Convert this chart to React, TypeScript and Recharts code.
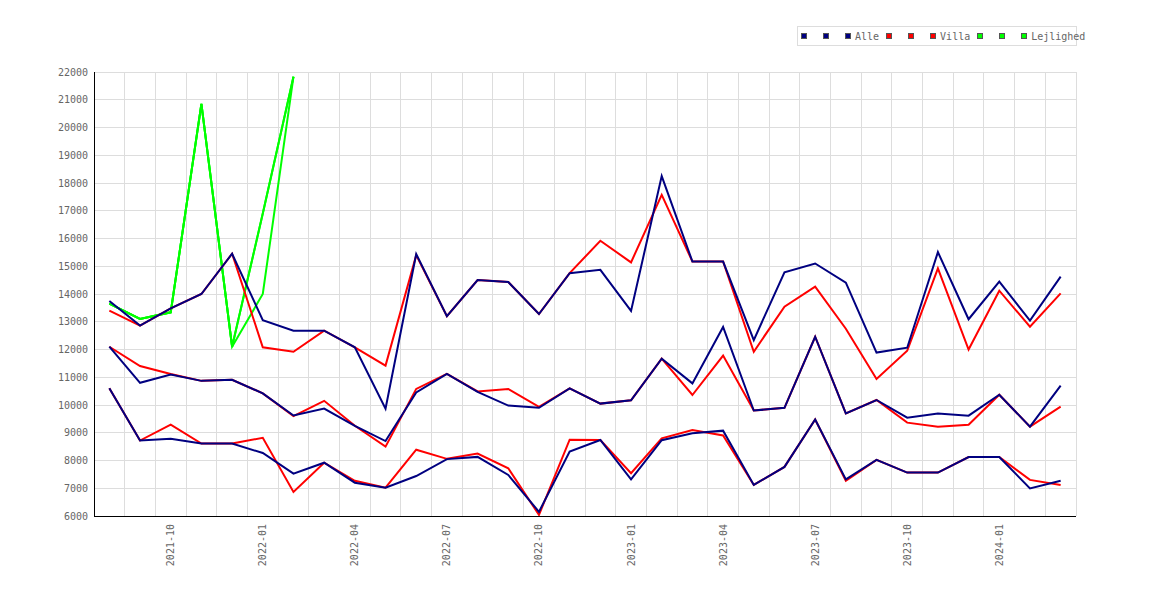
import React from "react";
import { LineChart, Line, XAxis, YAxis, CartesianGrid, Legend } from "recharts";

const months = [
  "2021-08", "2021-09", "2021-10", "2021-11", "2021-12", "2022-01", "2022-02", "2022-03",
  "2022-04", "2022-05", "2022-06", "2022-07", "2022-08", "2022-09", "2022-10", "2022-11",
  "2022-12", "2023-01", "2023-02", "2023-03", "2023-04", "2023-05", "2023-06", "2023-07",
  "2023-08", "2023-09", "2023-10", "2023-11", "2023-12", "2024-01", "2024-02", "2024-03",
];

const tickMonths = ["2021-10", "2022-01", "2022-04", "2022-07", "2022-10", "2023-01", "2023-04", "2023-07", "2023-10", "2024-01"];

const yTicks = [6000, 7000, 8000, 9000, 10000, 11000, 12000, 13000, 14000, 15000, 16000, 17000, 18000, 19000, 20000, 21000, 22000];

const alleUpper = [13750, 12860, 13480, 14000, 15450, 13060, 12680, 12680, 12080, 9870, 15440, 13200, 14500, 14430, 13280, 14750, 14870, 13390, 18250, 15170, 15170, 12340, 14780, 15100, 14410, 11890, 12065, 15510, 13090, 14445, 13040, 14625];
const alleMid = [12100, 10800, 11100, 10870, 10910, 10420, 9620, 9870, 9250, 8700, 10450, 11120, 10470, 9980, 9900, 10600, 10050, 10170, 11670, 10780, 12810, 9800, 9900, 12460, 9700, 10180, 9545, 9690, 9615, 10370, 9220, 10700];
const alleLower = [10600, 8720, 8780, 8610, 8610, 8270, 7525, 7920, 7200, 7020, 7440, 8050, 8130, 7480, 6150, 8320, 8740, 7320, 8730, 8980, 9075, 7120, 7770, 9480, 7320, 8020, 7565, 7565, 8125, 8125, 6995, 7270];

const villaUpper = [13400, 12860, 13480, 14000, 15450, 12080, 11920, 12680, 12080, 11420, 15400, 13200, 14500, 14430, 13280, 14750, 15920, 15140, 17570, 15170, 15170, 11920, 13545, 14265, 12750, 10940, 11955, 14925, 12000, 14120, 12820, 14025];
const villaMid = [12100, 11405, 11120, 10870, 10910, 10420, 9600, 10150, 9250, 8500, 10580, 11120, 10490, 10580, 9930, 10600, 10050, 10170, 11670, 10360, 11780, 9800, 9900, 12460, 9700, 10180, 9365, 9220, 9290, 10370, 9220, 9940];
const villaLower = [10600, 8720, 9290, 8610, 8610, 8820, 6865, 7920, 7270, 7020, 8390, 8060, 8250, 7720, 6040, 8750, 8740, 7540, 8800, 9100, 8900, 7120, 7770, 9480, 7270, 8020, 7565, 7565, 8125, 8125, 7300, 7120];

const lejlUpper = [13650, 13100, 13340, 20850, 12100, 16900, 21830];
const lejlMid = [13650, 13100, 13340, 20850, 12100, 16900, 21830];
const lejlLower = [13650, 13100, 13340, 20850, 12100, 14000, 21830];

const NAVY = "#000080";
const RED = "#ff0000";
const GREEN = "#00ff00";

const groups = [
  { name: "Alle", color: NAVY, keys: ["aU", "aM", "aL"] },
  { name: "Villa", color: RED, keys: ["vU", "vM", "vL"] },
  { name: "Lejlighed", color: GREEN, keys: ["gU", "gM", "gL"] },
];

const val = (arr: number[], i: number) => (i < arr.length ? arr[i] : null);

const data = months.map((m, i) => ({
  idx: i,
  month: m,
  aU: val(alleUpper, i),
  aM: val(alleMid, i),
  aL: val(alleLower, i),
  vU: val(villaUpper, i),
  vM: val(villaMid, i),
  vL: val(villaLower, i),
  gU: val(lejlUpper, i),
  gM: val(lejlMid, i),
  gL: val(lejlLower, i),
}));

const xTickValues = tickMonths.map((t) => months.indexOf(t));
const gridXValues = [...months.map((_, i) => i - 0.5), months.length - 0.5];

const FONT = "'DejaVu Sans Mono', 'Liberation Mono', monospace";
const TEXT = "#666666";

const XTick = (props: any) => {
  const { x, y, payload } = props;
  const label = months[payload.value] ?? "";
  return (
    <g transform={`translate(${x},${y})`}>
      <text transform="rotate(-90)" textAnchor="end" dy="0.35em" fill={TEXT} fontSize={10} fontFamily={FONT}>
        {label}
      </text>
    </g>
  );
};

const LegendBox = () => (
  <div
    style={{
      boxSizing: "border-box",
      width: 280,
      height: 20,
      border: "1px solid #dddddd",
      display: "flex",
      alignItems: "center",
      paddingLeft: 3,
      fontFamily: FONT,
      fontSize: 10,
      color: TEXT,
      whiteSpace: "nowrap",
      overflow: "visible",
      background: "#ffffff",
    }}
  >
    {groups.map((g) =>
      g.keys.map((k, j) => {
        const named = j === g.keys.length - 1;
        return (
          <span key={k} style={{ display: "inline-flex", alignItems: "center", marginRight: named ? 7 : 16 }}>
            <span
              style={{
                display: "inline-block",
                boxSizing: "border-box",
                width: 6,
                height: 6,
                border: "1px solid #555555",
                background: g.color,
                marginRight: named ? 4 : 0,
              }}
            />
            {named ? <span>{g.name}</span> : null}
          </span>
        );
      })
    )}
  </div>
);

const drawOrder = [
  { key: "gL", color: GREEN },
  { key: "gM", color: GREEN },
  { key: "gU", color: GREEN },
  { key: "vL", color: RED },
  { key: "vM", color: RED },
  { key: "vU", color: RED },
  { key: "aL", color: NAVY },
  { key: "aM", color: NAVY },
  { key: "aU", color: NAVY },
];

export default function App() {
  return (
    <div style={{ width: 1150, height: 584, background: "#ffffff" }}>
      <LineChart
        width={1150}
        height={584}
        data={data}
        margin={{ top: 64, right: 82, bottom: 16, left: 26 }}
      >
        <CartesianGrid
          stroke="#dddddd"
          strokeWidth={1}
          shapeRendering="crispEdges"
          verticalValues={gridXValues}
          horizontalValues={yTicks}
        />
        <XAxis
          dataKey="idx"
          type="number"
          domain={[-0.5, months.length - 0.5]}
          ticks={xTickValues}
          interval={0}
          tick={<XTick />}
          tickLine={false}
          axisLine={{ stroke: "#000000", strokeWidth: 1, shapeRendering: "crispEdges" }}
          height={60}
          allowDataOverflow
        />
        <YAxis
          type="number"
          domain={[6000, 22000]}
          ticks={yTicks}
          interval={0}
          tickLine={false}
          tickSize={4}
          tickMargin={2}
          axisLine={{ stroke: "#000000", strokeWidth: 1, shapeRendering: "crispEdges" }}
          tick={{ fill: TEXT, fontSize: 10, fontFamily: FONT }}
          width={60}
          allowDataOverflow
        />
        <Legend
          layout="vertical"
          align="center"
          verticalAlign="middle"
          content={() => <LegendBox />}
          wrapperStyle={{ top: 18, left: 789, width: 280, height: 20 }}
        />
        {drawOrder.map((s) => (
          <Line
            key={s.key}
            dataKey={s.key}
            type="linear"
            stroke={s.color}
            strokeWidth={2}
            dot={false}
            activeDot={false}
            connectNulls={false}
            isAnimationActive={false}
            legendType="none"
          />
        ))}
      </LineChart>
    </div>
  );
}
